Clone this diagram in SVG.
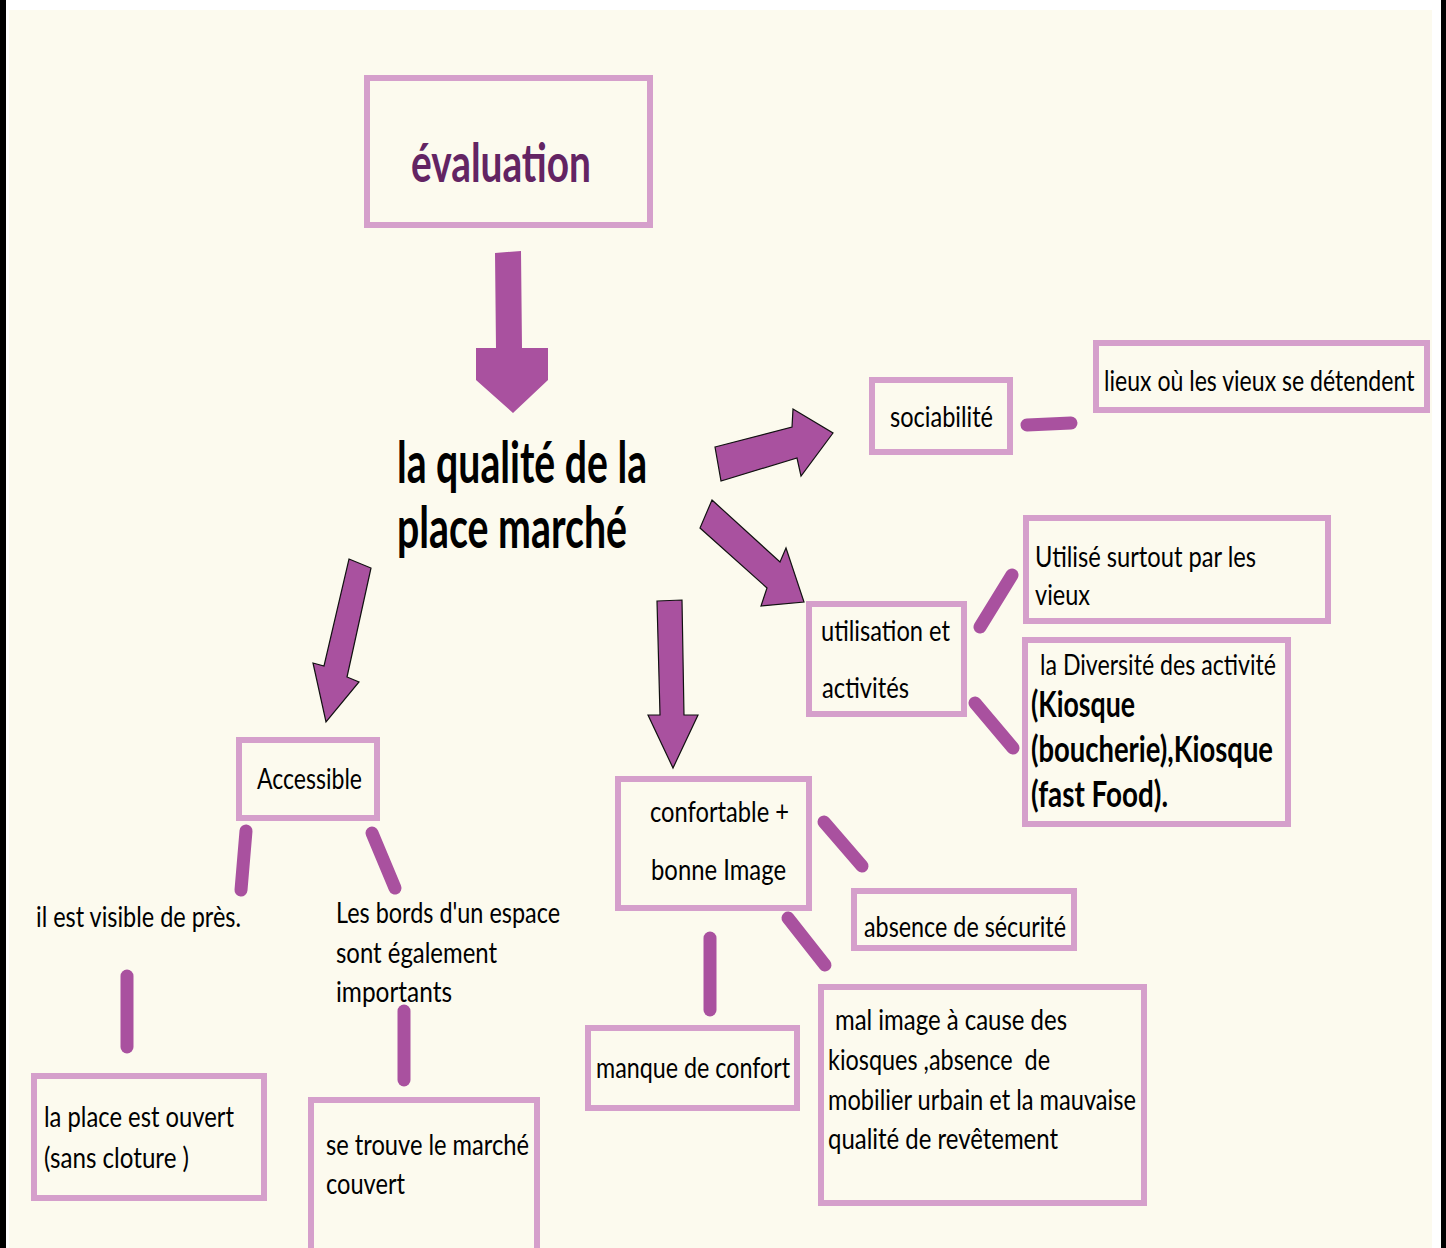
<svg xmlns="http://www.w3.org/2000/svg" width="1446" height="1248" viewBox="0 0 1446 1248">
<defs>
<style>
.box{fill:none;stroke:#D59FCB;stroke-width:6}
.t{font-family:Lato,"Liberation Sans",sans-serif;font-size:28px;fill:#000}
.tb{font-family:Lato,"Liberation Sans",sans-serif;font-weight:bold;fill:#000}
.arr{fill:#A9519F;stroke:#111;stroke-width:1.2;stroke-linejoin:miter}
.con{stroke:#A9519F;stroke-width:13;stroke-linecap:round;fill:none}
</style>
</defs>
<rect x="0" y="0" width="1446" height="1248" fill="#FFFFFF"/>
<rect x="9" y="10" width="1423" height="1238" fill="#FCFAEE"/>
<rect x="0" y="0" width="6" height="1248" fill="#000"/>
<rect x="1441" y="0" width="5" height="1248" fill="#000"/>

<g id="connectors">
<polygon points="495,253 521,251 522,348 548,348 548,380 513,413 476,380 476,348 496,348" fill="#A9519F"/>
<polygon class="arr" points="715,447 792,427 793,409 833,433 801,476 797,458 721,481"/>
<polygon class="arr" points="712,500 780,562 786,548 804,602 761,606 767,588 700,528"/>
<polygon class="arr" points="349,559 371,568 347,677 359,682 326,722 313,663 324,666"/>
<polygon class="arr" points="657,601 682,600 684,715 698,715 673,768 648,715 660,715"/>
<line class="con" x1="1027" y1="425" x2="1071" y2="423" stroke-width="15"/>
<line class="con" x1="980" y1="627" x2="1012" y2="575"/>
<line class="con" x1="975" y1="703" x2="1013" y2="748"/>
<line class="con" x1="246" y1="831" x2="241" y2="890" stroke-width="12"/>
<line class="con" x1="372" y1="833" x2="395" y2="888" stroke-width="12"/>
<line class="con" x1="127" y1="976" x2="127" y2="1047" stroke-width="12"/>
<line class="con" x1="404" y1="1011" x2="404" y2="1080" stroke-width="12"/>
<line class="con" x1="824" y1="822" x2="862" y2="866" stroke-width="12"/>
<line class="con" x1="788" y1="918" x2="825" y2="965" stroke-width="12"/>
<line class="con" x1="710" y1="938" x2="710" y2="1010" stroke-width="12"/>
</g>

<g id="evaluation">
<rect class="box" x="367" y="78" width="283" height="147"/>
<text x="411" y="182" font-family="Lato,'Liberation Sans',sans-serif" font-weight="bold" font-size="54" fill="#632463" textLength="180" lengthAdjust="spacingAndGlyphs">évaluation</text>
</g>

<g id="qualite">
<text class="tb" x="397" y="483" font-size="58" textLength="250" lengthAdjust="spacingAndGlyphs">la qualité de la</text>
<text class="tb" x="397" y="548" font-size="58" textLength="230" lengthAdjust="spacingAndGlyphs">place marché</text>
</g>

<g id="sociabilite">
<rect class="box" x="872" y="380" width="138" height="72"/>
<text class="t" x="890" y="427" textLength="103" lengthAdjust="spacingAndGlyphs">sociabilité</text>
</g>

<g id="lieux">
<rect class="box" x="1096" y="343" width="331" height="67"/>
<text class="t" transform="translate(1104 391) scale(0.8 1)" x="0" y="0" textLength="388" lengthAdjust="spacingAndGlyphs">lieux où les vieux se détendent</text>
</g>

<g id="utilisation">
<rect class="box" x="809" y="604" width="155" height="110"/>
<text class="t" x="821" y="641" textLength="129" lengthAdjust="spacingAndGlyphs">utilisation et</text>
<text class="t" x="822" y="698" textLength="87" lengthAdjust="spacingAndGlyphs">activités</text>
</g>

<g id="utilise">
<rect class="box" x="1026" y="518" width="302" height="103"/>
<text class="t" x="1035" y="567" textLength="221" lengthAdjust="spacingAndGlyphs">Utilisé surtout par les</text>
<text class="t" x="1035" y="605" textLength="55" lengthAdjust="spacingAndGlyphs">vieux</text>
</g>

<g id="diversite">
<rect class="box" x="1025" y="640" width="263" height="184"/>
<text class="t" x="1040" y="675" textLength="236" lengthAdjust="spacingAndGlyphs">la Diversité des activité</text>
<text class="tb" x="1031" y="717" font-size="36" textLength="104" lengthAdjust="spacingAndGlyphs">(Kiosque</text>
<text class="tb" x="1031" y="762" font-size="36" textLength="242" lengthAdjust="spacingAndGlyphs">(boucherie),Kiosque</text>
<text class="tb" x="1031" y="807" font-size="36" textLength="137" lengthAdjust="spacingAndGlyphs">(fast Food).</text>
</g>

<g id="accessible">
<rect class="box" x="239" y="740" width="138" height="78"/>
<text class="t" x="257" y="789" textLength="105" lengthAdjust="spacingAndGlyphs">Accessible</text>
</g>

<g id="visible">
<text class="t" x="36" y="927" textLength="205" lengthAdjust="spacingAndGlyphs">il est visible de près.</text>
</g>

<g id="bords">
<text class="t" x="336" y="923" textLength="224" lengthAdjust="spacingAndGlyphs">Les bords d'un espace</text>
<text class="t" x="336" y="963" textLength="161" lengthAdjust="spacingAndGlyphs">sont également</text>
<text class="t" x="336" y="1002" textLength="116" lengthAdjust="spacingAndGlyphs">importants</text>
</g>

<g id="ouvert">
<rect class="box" x="34" y="1076" width="230" height="122"/>
<text class="t" x="44" y="1127" textLength="190" lengthAdjust="spacingAndGlyphs">la place est ouvert</text>
<text class="t" x="44" y="1168" textLength="145" lengthAdjust="spacingAndGlyphs">(sans cloture )</text>
</g>

<g id="couvert">
<rect class="box" x="311" y="1100" width="226" height="160"/>
<text class="t" x="326" y="1155" textLength="203" lengthAdjust="spacingAndGlyphs">se trouve le marché</text>
<text class="t" x="326" y="1194" textLength="79" lengthAdjust="spacingAndGlyphs">couvert</text>
</g>

<g id="confortable">
<rect class="box" x="618" y="779" width="191" height="129"/>
<text class="t" x="650" y="822" textLength="139" lengthAdjust="spacingAndGlyphs">confortable +</text>
<text class="t" x="651" y="880" textLength="135" lengthAdjust="spacingAndGlyphs">bonne Image</text>
</g>

<g id="securite">
<rect class="box" x="854" y="891" width="220" height="57"/>
<text class="t" x="864" y="937" textLength="202" lengthAdjust="spacingAndGlyphs">absence de sécurité</text>
</g>

<g id="confort">
<rect class="box" x="588" y="1028" width="209" height="80"/>
<text class="t" x="596" y="1078" textLength="194" lengthAdjust="spacingAndGlyphs">manque de confort</text>
</g>

<g id="malimage">
<rect class="box" x="821" y="987" width="323" height="216"/>
<text class="t" x="835" y="1030" textLength="232" lengthAdjust="spacingAndGlyphs">mal image à cause des</text>
<text class="t" x="828" y="1070" textLength="222" lengthAdjust="spacingAndGlyphs" xml:space="preserve">kiosques ,absence  de</text>
<text class="t" x="828" y="1110" textLength="308" lengthAdjust="spacingAndGlyphs">mobilier urbain et la mauvaise</text>
<text class="t" x="828" y="1149" textLength="230" lengthAdjust="spacingAndGlyphs">qualité de revêtement</text>
</g>
</svg>
